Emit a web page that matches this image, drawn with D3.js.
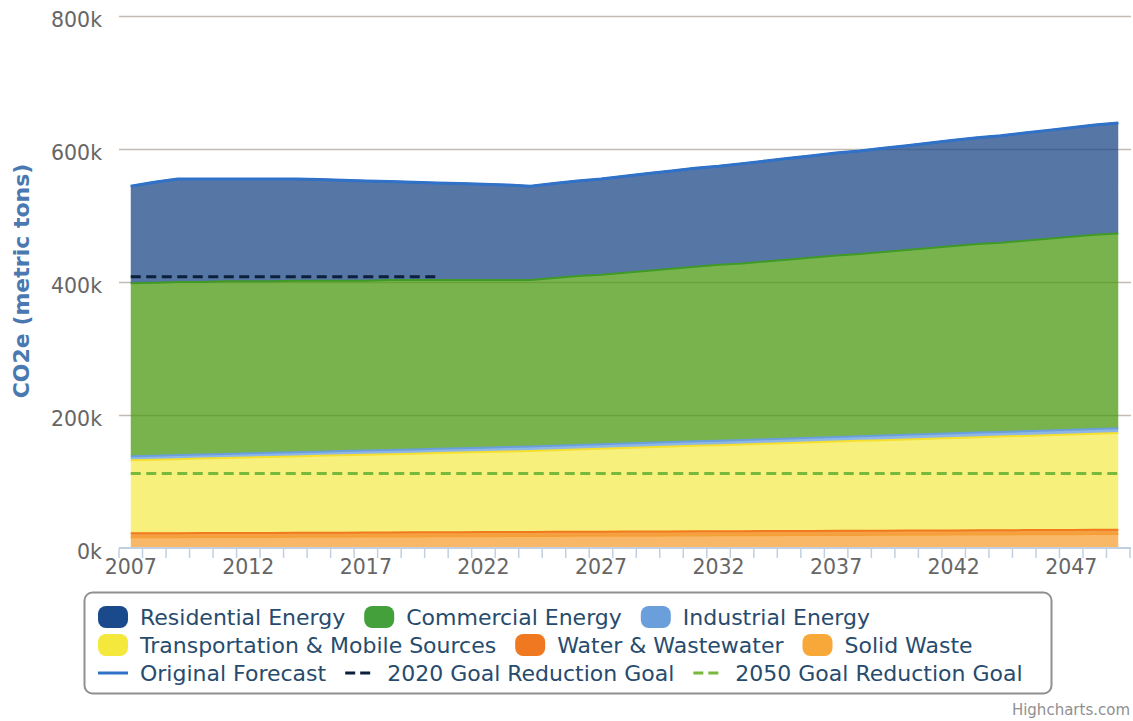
<!DOCTYPE html>
<html>
<head>
<meta charset="utf-8">
<script src="https://cdn.jsdelivr.net/npm/d3@7"></script>
<style>
  body { margin: 0; background: #fff; }
  text { font-family: 'DejaVu Sans', sans-serif; }
</style>
</head>
<body>
<div id="container"></div>
<script>
const width = 1133;
const height = 721;

// years 2007 .. 2049
const years = [2007, 2008, 2009, 2010, 2011, 2012, 2013, 2014, 2015, 2016,
               2017, 2018, 2019, 2020, 2021, 2022, 2023, 2024, 2025, 2026,
               2027, 2028, 2029, 2030, 2031, 2032, 2033, 2034, 2035, 2036,
               2037, 2038, 2039, 2040, 2041, 2042, 2043, 2044, 2045, 2046,
               2047, 2048, 2049];
const yTicks = [0, 200, 400, 600, 800];

// values in thousands of metric tons CO2e
const residential = [146, 151, 155, 155, 154, 154, 154, 153, 152, 151,
                     150, 148, 147, 146, 145, 144, 143, 141, 142, 143,
                     144, 145, 146, 147, 148, 148, 150, 151, 152, 153,
                     154, 155, 156, 157, 158, 159, 160, 161, 162, 163,
                     164, 165, 166];
const commercial = [260.0, 260.2, 260.3, 259.4, 259.6, 258.7, 257.9, 258.1, 257.1, 256.3,
                    255.5, 255.6, 254.8, 253.9, 253.0, 252.2, 251.3, 250.4, 252.3, 254.2,
                    255.1, 257.0, 258.9, 260.7, 262.6, 264.6, 265.5, 267.3, 269.2, 271.2,
                    273.1, 273.9, 275.8, 277.8, 279.7, 281.6, 283.5, 284.4, 286.4, 288.3,
                    290.2, 292.1, 293.0];
const industrial = [6.0, 6.0, 6.1, 6.1, 6.1, 6.2, 6.2, 6.2, 6.3, 6.3,
                    6.3, 6.4, 6.4, 6.4, 6.5, 6.5, 6.5, 6.6, 6.6, 6.6,
                    6.7, 6.7, 6.7, 6.8, 6.8, 6.8, 6.8, 6.9, 6.9, 6.9,
                    6.9, 7.0, 7.0, 7.0, 7.0, 7.0, 7.0, 7.0, 7.0, 7.0,
                    7.0, 7.0, 7.0];
const transportation = [110.0, 110.7, 111.4, 112.1, 112.8, 113.5, 114.2, 114.9, 115.6, 116.3,
                        116.9, 117.6, 118.3, 119.0, 119.7, 120.4, 121.2, 121.9, 122.8, 123.8,
                        124.6, 125.6, 126.6, 127.5, 128.5, 129.4, 130.4, 131.4, 132.3, 133.2,
                        134.1, 135.1, 136.1, 136.9, 137.9, 138.9, 139.9, 140.9, 141.7, 142.7,
                        143.6, 144.6, 145.6];
const water = [6.0, 6.0, 6.0, 6.0, 6.0, 6.0, 6.0, 6.0, 6.0, 6.0,
               6.1, 6.1, 6.1, 6.1, 6.1, 6.1, 6.1, 6.1, 6.1, 6.1,
               6.2, 6.2, 6.2, 6.2, 6.2, 6.2, 6.2, 6.2, 6.2, 6.2,
               6.3, 6.3, 6.3, 6.3, 6.3, 6.3, 6.3, 6.3, 6.3, 6.3,
               6.4, 6.4, 6.4];
const solidWaste = [16.0, 16.1, 16.2, 16.4, 16.5, 16.6, 16.7, 16.8, 17.0, 17.1,
                    17.2, 17.3, 17.4, 17.6, 17.7, 17.8, 17.9, 18.0, 18.2, 18.3,
                    18.4, 18.5, 18.6, 18.8, 18.9, 19.0, 19.1, 19.2, 19.4, 19.5,
                    19.6, 19.7, 19.8, 20.0, 20.1, 20.2, 20.3, 20.4, 20.6, 20.7,
                    20.8, 20.9, 21.0];
const originalForecast = [544, 550, 555, 555, 555, 555, 555, 555, 554, 553,
                          552, 551, 550, 549, 548, 547, 546, 544, 548, 552,
                          555, 559, 563, 567, 571, 574, 578, 582, 586, 590,
                          594, 597, 601, 605, 609, 613, 617, 620, 624, 628,
                          632, 636, 639];
const goal2020Years = [2007, 2020];
const goal2020 = [408, 408];
const goal2050Years = [2007, 2049];
const goal2050 = [112, 112];

const seriesNames = ['Residential Energy', 'Commercial Energy', 'Industrial Energy',
                     'Transportation & Mobile Sources', 'Water & Wastewater', 'Solid Waste'];
const seriesValues = [residential, commercial, industrial, transportation, water, solidWaste];
const seriesColors = ['#1e4888', '#4b9a12', '#6a9fdc', '#f5eb50', '#f38008', '#f5a036'];
const lineColors = ['#1e4888', '#3f9a26', '#6a9fdc', '#f5e030', '#f07a1c', '#f5a036'];

const svg = d3.select('#container')
    .append('svg')
    .attr('width', width)
    .attr('height', height);

const x = d3.scaleBand()
    .domain(years)
    .range([119, 1130]);
const xc = yr => x(yr) + x.bandwidth() / 2;

const y = d3.scaleLinear()
    .domain([0, 800])
    .range([548, 16]);

/* GRID */
svg.append('g')
    .selectAll('line')
    .data(yTicks.slice(1))
    .enter().append('line')
    .attr('x1', 119)
    .attr('x2', 1131)
    .attr('y1', d => y(d) + 0.5)
    .attr('y2', d => y(d) + 0.5)
    .attr('stroke', '#c4bab2')
    .attr('stroke-width', 1.5);

svg.append('g')
    .selectAll('text')
    .data(yTicks)
    .enter().append('text')
    .attr('x', 102)
    .attr('y', d => y(d) + 11)
    .attr('text-anchor', 'end')
    .style('font-size', '20.5px')
    .style('fill', '#666')
    .text(d => d + 'k');

svg.append('text')
    .attr('transform', 'translate(29,281) rotate(-90)')
    .attr('text-anchor', 'middle')
    .style('font-size', '22px')
    .style('font-weight', 'bold')
    .style('fill', '#4a78b0')
    .text('CO2e (metric tons)');

/* STACKED AREAS */
const table = years.map((yr, i) => {
    const row = { year: yr };
    seriesNames.forEach((n, k) => { row[n] = seriesValues[k][i]; });
    return row;
});

const stack = d3.stack().keys(seriesNames.slice().reverse());
const layers = stack(table);

const area = d3.area()
    .x(d => xc(d.data.year))
    .y0(d => y(d[0]))
    .y1(d => y(d[1]));

const topLine = d3.line()
    .x(d => xc(d.data.year))
    .y(d => y(d[1]));

const colorOf = name => seriesColors[seriesNames.indexOf(name)];
const lineOf = name => lineColors[seriesNames.indexOf(name)];

svg.append('g')
    .selectAll('path')
    .data(layers)
    .enter().append('path')
    .attr('d', area)
    .attr('fill', d => colorOf(d.key))
    .attr('fill-opacity', 0.75);

svg.append('g')
    .selectAll('path')
    .data(layers)
    .enter().append('path')
    .attr('d', topLine)
    .attr('fill', 'none')
    .attr('stroke', d => lineOf(d.key))
    .attr('stroke-width', 2);

/* GOAL LINES */
const simpleLine = d3.line()
    .x(d => xc(d[0]))
    .y(d => y(d[1]));

svg.append('path')
    .attr('d', simpleLine(goal2020Years.map((yr, i) => [yr, goal2020[i]])))
    .attr('fill', 'none')
    .attr('stroke', '#0c1f3c')
    .attr('stroke-width', 3)
    .attr('stroke-dasharray', '10,5.5');

svg.append('path')
    .attr('d', simpleLine(goal2050Years.map((yr, i) => [yr, goal2050[i]])))
    .attr('fill', 'none')
    .attr('stroke', '#78b83a')
    .attr('stroke-width', 3)
    .attr('stroke-dasharray', '10,5.5');

/* ORIGINAL FORECAST */
svg.append('path')
    .attr('d', simpleLine(years.map((yr, i) => [yr, originalForecast[i]])))
    .attr('fill', 'none')
    .attr('stroke', '#2f72c8')
    .attr('stroke-width', 3);

/* X AXIS */
svg.append('line')
    .attr('x1', 119)
    .attr('x2', 1131)
    .attr('y1', 548)
    .attr('y2', 548)
    .attr('stroke', '#c0d0e0')
    .attr('stroke-width', 2);

const tickXs = years.map(yr => x(yr)).concat([x(years[years.length - 1]) + x.step()]);
svg.append('g')
    .selectAll('line')
    .data(tickXs)
    .enter().append('line')
    .attr('x1', d => d)
    .attr('x2', d => d)
    .attr('y1', 548)
    .attr('y2', 558)
    .attr('stroke', '#c0d0e0')
    .attr('stroke-width', 1.5);

svg.append('g')
    .selectAll('text')
    .data(years.filter((yr, i) => i % 5 === 0))
    .enter().append('text')
    .attr('x', d => xc(d))
    .attr('y', 574)
    .attr('text-anchor', 'middle')
    .style('font-size', '20.5px')
    .style('fill', '#666')
    .text(d => d);

/* LEGEND */
svg.append('rect')
    .attr('x', 84.5)
    .attr('y', 592.5)
    .attr('width', 967)
    .attr('height', 101)
    .attr('rx', 8)
    .attr('ry', 8)
    .attr('fill', '#fff')
    .attr('stroke', '#909090')
    .attr('stroke-width', 2);

const legendRows = [
    [{ name: 'Residential Energy', color: '#1a4a8c', type: 'box' },
     { name: 'Commercial Energy', color: '#43a03a', type: 'box' },
     { name: 'Industrial Energy', color: '#6a9fdc', type: 'box' }],
    [{ name: 'Transportation & Mobile Sources', color: '#f5e83c', type: 'box' },
     { name: 'Water & Wastewater', color: '#f07820', type: 'box' },
     { name: 'Solid Waste', color: '#f8a838', type: 'box' }],
    [{ name: 'Original Forecast', color: '#2f72c8', type: 'line' },
     { name: '2020 Goal Reduction Goal', color: '#0c1f3c', type: 'dash' },
     { name: '2050 Goal Reduction Goal', color: '#78b83a', type: 'dash' }]
];

const legend = svg.append('g').attr('id', 'legend');
legendRows.forEach((row, r) => {
    const cy = 617 + r * 28;
    let cx = 98;
    row.forEach(item => {
        if (item.type === 'box') {
            legend.append('rect')
                .attr('x', cx)
                .attr('y', cy - 11)
                .attr('width', 30)
                .attr('height', 22)
                .attr('rx', 8)
                .attr('fill', item.color);
        } else {
            legend.append('line')
                .attr('x1', cx)
                .attr('x2', cx + 30)
                .attr('y1', cy)
                .attr('y2', cy)
                .attr('stroke', item.color)
                .attr('stroke-width', 3)
                .attr('stroke-dasharray', item.type === 'dash' ? '10,5' : null);
        }
        const t = legend.append('text')
            .attr('x', cx + 42)
            .attr('y', cy + 8)
            .style('font-size', '22px')
            .style('fill', '#274b6d')
            .text(item.name);
        cx += 42 + t.node().getComputedTextLength() + 19;
    });
});

svg.append('text')
    .attr('x', 1130)
    .attr('y', 715)
    .attr('text-anchor', 'end')
    .style('font-size', '15px')
    .style('fill', '#909090')
    .text('Highcharts.com');
</script>
</body>
</html>
